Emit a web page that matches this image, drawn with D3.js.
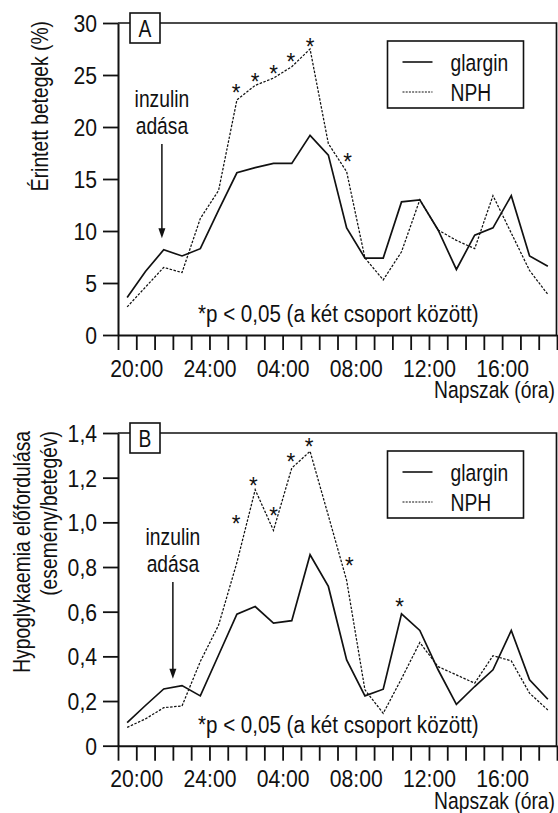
<!DOCTYPE html>
<html><head><meta charset="utf-8">
<script src="https://cdn.jsdelivr.net/npm/d3@7/dist/d3.min.js"></script>
<style>
body{margin:0;background:#fff}
text{font-family:'Liberation Sans',Arial,sans-serif;fill:#111}
</style>
</head><body>
<svg id="c" width="558" height="813"></svg>
<script>
// ---- data ----
const hours = d3.range(24).map(i => 19.5 + i); // 19:30 ... 18:30
const xTickHours = d3.range(19, 44);
const xLabelHours = [20, 24, 28, 32, 36, 40];
const xLabels = ["20:00", "24:00", "04:00", "08:00", "12:00", "16:00"];

const glarginA = [3.6, 6.1, 8.2, 7.6, 8.3, 12.0, 15.6, 16.1, 16.5, 16.5, 19.2, 17.3, 10.3, 7.4, 7.4, 12.8, 13.0, 10.1, 6.3, 9.6, 10.3, 13.4, 7.6, 6.6];
const nphA     = [2.7, 4.6, 6.5, 6.0, 11.2, 13.9, 22.6, 24.0, 24.7, 25.8, 27.5, 18.4, 15.7, 7.4, 5.3, 8.0, 13.0, 10.1, 9.1, 8.3, 13.4, 9.8, 6.2, 3.9];
const yTicksA = [0, 5, 10, 15, 20, 25, 30];
const yLabelsA = ["0", "5", "10", "15", "20", "25", "30"];
const starTimesA = [25.45, 26.5, 27.5, 28.45, 29.5, 31.55];
const starValuesA = [23.8, 24.9, 25.6, 26.8, 28.2, 17.2];

const glarginB = [0.103, 0.18, 0.254, 0.269, 0.223, 0.406, 0.589, 0.623, 0.549, 0.56, 0.855, 0.713, 0.384, 0.223, 0.253, 0.59, 0.516, 0.34, 0.185, 0.265, 0.34, 0.516, 0.295, 0.208];
const nphB     = [0.082, 0.12, 0.17, 0.178, 0.377, 0.54, 0.82, 1.146, 0.964, 1.243, 1.318, 1.03, 0.74, 0.25, 0.145, 0.30, 0.462, 0.354, 0.317, 0.28, 0.403, 0.38, 0.235, 0.16];
const yTicksB = [0, 0.2, 0.4, 0.6, 0.8, 1.0, 1.2, 1.4];
const yLabelsB = ["0", "0,2", "0,4", "0,6", "0,8", "1,0", "1,2", "1,4"];
const starTimesB = [25.45, 26.4, 27.5, 28.45, 29.45, 31.65, 34.4];
const starValuesB = [1.019, 1.186, 1.052, 1.293, 1.363, 0.828, 0.645];

const seriesNames = ["glargin", "NPH"];
const footnote = "*p < 0,05 (a két csoport között)";
const xTitle = "Napszak (óra)";

// ---- drawing ----
const svg = d3.select("#c");
const FS = 23.5;
const SX = 0.82;   // condensed look for words
const SXD = 0.9;   // digits are relatively wider in the reference face
const L = 118, R = 557;
const x = d3.scaleLinear().domain([19, 43]).range([L, R]);

function txt(g, px, py, s, anchor, rot, sx) {
  return g.append("text")
    .attr("transform", `translate(${px},${py})${rot ? " rotate(" + rot + ")" : ""} scale(${sx || SX},1)`)
    .attr("text-anchor", anchor || "start")
    .style("font-size", FS + "px").text(s);
}

function panel(o) {
  const g = svg.append("g");
  const y = d3.scaleLinear().domain(o.yDomain).range([o.bottom, o.top]);

  // frame top & right
  g.append("path").attr("d", `M${L},${o.top}H${R - 0.5}V${o.bottom}`)
    .attr("fill", "none").attr("stroke", "#111").attr("stroke-width", 1.7);

  // y axis
  const ya = g.append("g").attr("transform", `translate(${L},0)`)
    .call(d3.axisLeft(y).tickValues(o.yTicks).tickFormat((d, i) => o.yLabels[i]).tickSize(15).tickSizeOuter(0).tickPadding(6));
  ya.select(".domain").attr("stroke-width", 2).attr("stroke", "#111");
  ya.selectAll(".tick line").attr("stroke-width", 1.8).attr("stroke", "#111");
  ya.selectAll(".tick text").style("font-size", FS + "px").attr("dy", "0.36em").style("fill", "#111")
    .style("font-family", "'Liberation Sans',Arial,sans-serif")
    .each(function () { const t = d3.select(this); t.attr("x", +t.attr("x") / SXD).attr("transform", `scale(${SXD},1)`); });

  // x axis
  const xa = g.append("g").attr("transform", `translate(0,${o.bottom})`)
    .call(d3.axisBottom(x).tickValues(xTickHours)
      .tickFormat(d => { const i = xLabelHours.indexOf(d); return i >= 0 ? xLabels[i] : ""; })
      .tickSize(15).tickSizeOuter(0).tickPadding(10));
  xa.select(".domain").attr("stroke-width", 2).attr("stroke", "#111");
  xa.selectAll(".tick line").attr("stroke-width", 1.8).attr("stroke", "#111");
  xa.selectAll(".tick text").style("font-size", FS + "px").style("fill", "#111")
    .style("font-family", "'Liberation Sans',Arial,sans-serif")
    .attr("transform", `scale(${SXD},1)`);

  txt(g, R - 2, o.bottom + 63, xTitle, "end");

  // y title
  o.yTitle.forEach((t, i) => txt(g, o.yTitleX[i], o.top - 2, t, "end", -90));

  // panel letter box
  g.append("rect").attr("x", 130).attr("y", o.top - 10).attr("width", 30).attr("height", 30)
    .attr("fill", "#fff").attr("stroke", "#111").attr("stroke-width", 1.6);
  txt(g, 145, o.top + 13.5, o.letter, "middle");

  // lines
  const line = d3.line().x((d, i) => x(hours[i])).y(d => y(d));
  g.append("path").datum(o.nph).attr("d", line).attr("fill", "none")
    .attr("stroke", "#111").attr("stroke-width", 1.25).attr("stroke-dasharray", "2.5,1.5");
  g.append("path").datum(o.glargin).attr("d", line).attr("fill", "none")
    .attr("stroke", "#111").attr("stroke-width", 1.7);

  // stars
  o.starT.forEach((t, i) => txt(g, x(t), y(o.starV[i]) + 13.5, "*", "middle", 0, 0.95));

  // insulin annotation
  const ax = x(o.insT);
  txt(g, ax, o.insTextY, "inzulin", "middle");
  txt(g, ax, o.insTextY + 27, "adása", "middle");
  const tip = y(o.insV);
  g.append("line").attr("x1", ax).attr("x2", ax).attr("y1", o.insTextY + 37).attr("y2", tip - 8)
    .attr("stroke", "#111").attr("stroke-width", 1.5);
  g.append("path").attr("d", `M${ax - 3.5},${tip - 10}L${ax + 3.5},${tip - 10}L${ax},${tip}Z`).attr("fill", "#111");

  // footnote
  txt(g, 198, o.bottom - 13, footnote, "start", 0, 0.875);

  // legend
  const lx = 387.5, ly = o.top + 18;
  g.append("rect").attr("x", lx).attr("y", ly).attr("width", 136).attr("height", 67)
    .attr("fill", "#fff").attr("stroke", "#111").attr("stroke-width", 1.6);
  [0, 1].forEach(i => {
    const yy = ly + 21 + i * 30;
    g.append("line").attr("x1", lx + 15).attr("x2", lx + 45).attr("y1", yy).attr("y2", yy)
      .attr("stroke", "#111").attr("stroke-width", i ? 1.2 : 1.6)
      .attr("stroke-dasharray", i ? "2,1.2" : null);
    txt(g, lx + 63, yy + 8.5, seriesNames[i], "start");
  });
}

panel({
  letter: "A", top: 23, bottom: 335, yDomain: [0, 30], yTicks: yTicksA, yLabels: yLabelsA,
  glargin: glarginA, nph: nphA, starT: starTimesA, starV: starValuesA,
  yTitle: ["Érintett betegek (%)"], yTitleX: [48],
  insT: 21.4, insV: 9.3, insTextY: 107
});
panel({
  letter: "B", top: 433, bottom: 745.7, yDomain: [0, 1.4], yTicks: yTicksB, yLabels: yLabelsB,
  glargin: glarginB, nph: nphB, starT: starTimesB, starV: starValuesB,
  yTitle: ["Hypoglykaemia előfordulása", "(esemény/betegév)"], yTitleX: [30, 57],
  insT: 22.0, insV: 0.30, insTextY: 545
});
</script>
</body></html>
